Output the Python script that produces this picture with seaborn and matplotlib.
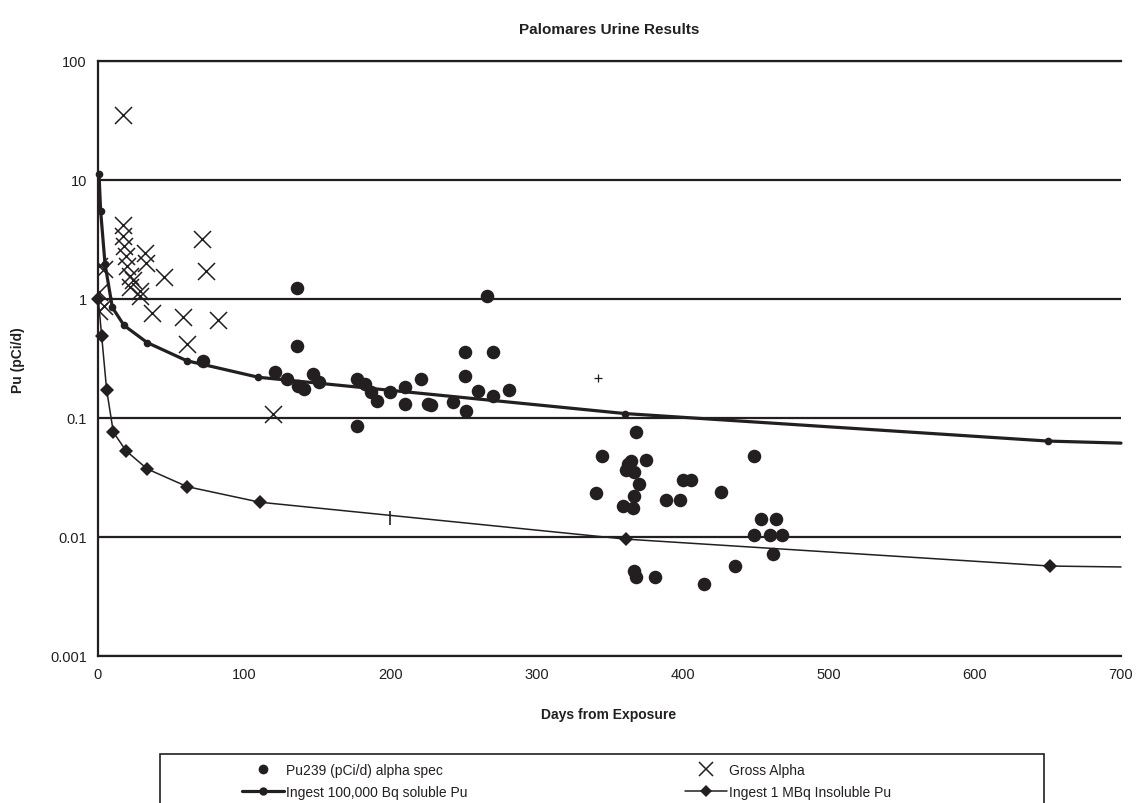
import numpy as np
import pandas as pd
import matplotlib
matplotlib.use("Agg")
import matplotlib.pyplot as plt
from matplotlib.patches import Rectangle
from matplotlib.lines import Line2D
from matplotlib.ticker import NullLocator
import seaborn as sns

# ---------------- data ----------------
title = "Palomares Urine Results"
xlabel = "Days from Exposure"
ylabel = "Pu (pCi/d)"

pu_days = [72, 121, 129, 136, 136, 137, 141, 147, 151, 177, 177, 183, 187, 191, 200,
           210, 210, 221, 226, 228, 243, 251, 251, 252, 260, 266, 270, 270, 281,
           341, 345, 359, 361, 363, 365, 366, 367, 367, 367, 368, 368, 370, 375, 381,
           389, 398, 400, 406, 415, 426, 436, 449, 449, 454, 460, 462, 464, 468]
pu_vals = [0.30, 0.242, 0.213, 1.24, 0.405, 0.187, 0.175, 0.235, 0.200, 0.213, 0.086,
           0.193, 0.164, 0.140, 0.164, 0.181, 0.131, 0.213, 0.131, 0.128, 0.135, 0.360,
           0.224, 0.115, 0.170, 1.05, 0.360, 0.154, 0.173,
           0.0233, 0.0482, 0.0182, 0.0367, 0.041, 0.0438, 0.0176, 0.035, 0.0223, 0.0052,
           0.0759, 0.0046, 0.0279, 0.0443, 0.0046, 0.0205, 0.0205, 0.0301, 0.0301, 0.0040,
           0.0241, 0.0057, 0.0482, 0.0103, 0.0142, 0.0103, 0.0072, 0.0142, 0.0103]

ga_days = [1, 1, 1, 4, 4, 17, 17, 17, 18, 19, 20, 22, 22, 24, 29, 29, 32, 33, 37, 45,
           58, 61, 71, 74, 82, 120]
ga_vals = [1.9, 1.15, 0.8, 1.8, 0.88, 35, 4.2, 3.4, 2.8, 2.3, 1.9, 1.55, 1.27, 1.45,
           1.17, 1.05, 2.45, 2.0, 0.77, 1.52, 0.70, 0.42, 3.2, 1.73, 0.67, 0.108]

sol_days = [0.7, 1.8, 4.8, 9.8, 17.8, 33.7, 60.7, 109.7, 360.5, 650, 700]
sol_vals = [11.2, 5.5, 1.97, 0.85, 0.60, 0.43, 0.303, 0.22, 0.109, 0.064, 0.0615]

ins_days = [0.2, 2.5, 5.9, 10.5, 19.2, 33.7, 61, 110.8, 361, 651.6, 700]
ins_vals = [1.0, 0.49, 0.173, 0.076, 0.053, 0.0373, 0.0265, 0.0196, 0.0096, 0.0057, 0.0056]

plus_days = [342]
plus_vals = [0.217]
bar_days = [200]
bar_vals = [0.0145]

xticks = [0, 100, 200, 300, 400, 500, 600, 700]
yticks = [0.001, 0.01, 0.1, 1, 10, 100]
ytick_labels = ["0.001", "0.01", "0.1", "1", "10", "100"]

labels = ["Pu239 (pCi/d) alpha spec", "Gross Alpha",
          "Ingest 100,000 Bq soluble Pu", "Ingest 1 MBq Insoluble Pu"]

# ---------------- style ----------------
sns.set_style("white")
plt.rcParams["font.family"] = ["Liberation Sans", "DejaVu Sans"]
INK = "#231f20"

W, H = 1138, 804
fig = plt.figure(figsize=(W / 100, H / 100), dpi=100)
L, R, T, B = 98, 1121, 62, 657
ax = fig.add_axes([L / W, 1 - B / H, (R - L) / W, (B - T) / H])

pu_df = pd.DataFrame({"day": pu_days, "val": pu_vals})
ga_df = pd.DataFrame({"day": ga_days, "val": ga_vals})
sol_df = pd.DataFrame({"day": sol_days, "val": sol_vals})
ins_df = pd.DataFrame({"day": ins_days, "val": ins_vals})

sns.lineplot(data=sol_df, x="day", y="val", ax=ax, color=INK, lw=2.3, marker="o",
             markersize=5.5, markeredgewidth=0, estimator=None, sort=False,
             markevery=list(range(len(sol_days) - 1)), clip_on=False, zorder=4)
sns.lineplot(data=ins_df, x="day", y="val", ax=ax, color=INK, lw=1.1, marker="D",
             markersize=7.5, markeredgewidth=0, estimator=None, sort=False,
             markevery=list(range(len(ins_days) - 1)), clip_on=False, zorder=4)
sns.scatterplot(data=pu_df, x="day", y="val", ax=ax, color=INK, s=95, marker="o",
                linewidth=0, zorder=5)
sns.scatterplot(data=ga_df, x="day", y="val", ax=ax, color=INK, s=150, marker="x",
                linewidth=1.1, zorder=5)
ax.scatter(plus_days, plus_vals, marker="+", s=40, color=INK, linewidth=0.9, zorder=5)
ax.scatter(bar_days, bar_vals, marker="|", s=110, color=INK, linewidth=1.2, zorder=5)

ax.set_yscale("log")
ax.set_xlim(0, 700)
ax.set_ylim(0.001, 100)
ax.set_yticks(yticks, labels=ytick_labels)
ax.set_xticks(xticks)
ax.yaxis.set_minor_locator(NullLocator())
ax.xaxis.set_minor_locator(NullLocator())
ax.grid(axis="y", color=INK, lw=1.6)
ax.grid(axis="x", visible=False)
ax.set_axisbelow(True)
ax.spines["right"].set_visible(False)
for s in ["left", "bottom", "top"]:
    ax.spines[s].set_color(INK)
    ax.spines[s].set_linewidth(1.6)
ax.tick_params(axis="both", which="major", direction="out", length=4.5, width=1.4,
               color=INK, labelsize=10.5, labelcolor=INK, pad=3.5)
ax.set_xlabel("")
ax.set_ylabel("")

fig.text(609 / W, 1 - 30 / H, title, ha="center", va="center", fontsize=11,
         fontweight="bold", color=INK)
fig.text(609 / W, 1 - 715 / H, xlabel, ha="center", va="center", fontsize=10,
         fontweight="bold", color=INK)
fig.text(18 / W, 1 - 360 / H, ylabel, ha="center", va="center", fontsize=10,
         fontweight="bold", color=INK, rotation=90)

# ---------------- legend ----------------
h_pu = Line2D([], [], ls="none", marker="o", ms=7, mew=0, color=INK)
h_ga = Line2D([], [], ls="none", marker="x", ms=9.5, mew=1.1, color=INK)
h_sol = Line2D([], [], lw=2.3, marker="o", ms=6, mew=0, color=INK)
h_ins = Line2D([], [], lw=1.1, marker="D", ms=6.5, mew=0, color=INK)

common = dict(frameon=False, borderpad=0, borderaxespad=0, handlelength=3.0,
              handletextpad=0.15, labelspacing=0.6, fontsize=10,
              bbox_transform=fig.transFigure, loc="upper left")
leg1 = fig.legend([h_pu, h_sol], [labels[0], labels[2]],
                  bbox_to_anchor=(242 / W, 1 - 764 / H), **common)
leg2 = fig.legend([h_ga, h_ins], [labels[1], labels[3]],
                  bbox_to_anchor=(685 / W, 1 - 764 / H), **common)
for lg in (leg1, leg2):
    for t in lg.get_texts():
        t.set_color(INK)
fig.add_artist(Rectangle((160 / W, -0.05), (1044 - 160) / W, 0.05 + 1 - 755 / H,
                         transform=fig.transFigure, fill=False, edgecolor=INK, lw=1.2))

fig.savefig("out.png", dpi=100)
